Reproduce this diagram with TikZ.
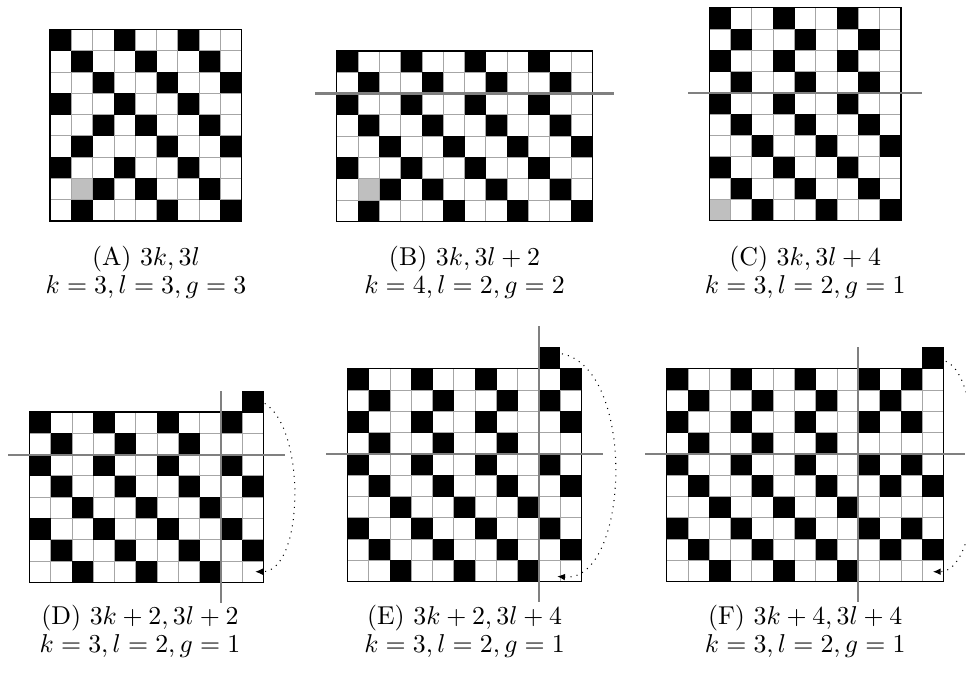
\documentclass[tikz,border=0pt]{standalone}
\usetikzlibrary{arrows.meta}
\begin{document}
\begin{tikzpicture}[x=0.29cm,y=0.29cm,
  cellgrid/.style={gray!70,line width=.35pt,step={(1,1)}},
  boardframe/.style={black,line width=.5pt},
  cutline/.style={gray,line width=.8pt},
  greycell/.style={fill=gray!50,draw=gray!70,line width=.35pt},
  wraparc/.style={dotted,line width=.4pt,-{Latex[length=3pt,width=2.6pt]}},
  captext/.style={anchor=base,inner sep=0pt}]
  \useasboundingbox (0,0) rectangle (45.35,31.6);

  % Board (A)
  \begin{scope}[shift={(2.35,21.22)}]
    \draw[cellgrid] (0,0) grid (9,9);
    \foreach \c/\r in {0/8,3/8,6/8,1/7,4/7,7/7,2/6,5/6,8/6,0/5,3/5,6/5,2/4,4/4,7/4,
                       1/3,5/3,8/3,0/2,3/2,6/2,2/1,4/1,7/1,1/0,5/0,8/0}
      \fill (\c,\r) rectangle ++(1,1);
    \filldraw[greycell] (1,1) rectangle ++(1,1);
    \draw[boardframe] (0,0) rectangle (9,9);
  \end{scope}

  % Board (B)
  \begin{scope}[shift={(15.81,21.21)}]
    \draw[cellgrid] (0,0) grid (12,8);
    \foreach \c/\r in {0/7,3/7,6/7,9/7,1/6,4/6,7/6,10/6,0/5,3/5,6/5,9/5,1/4,4/4,7/4,10/4,
                       2/3,5/3,8/3,11/3,0/2,3/2,6/2,9/2,2/1,4/1,7/1,10/1,1/0,5/0,8/0,11/0}
      \fill (\c,\r) rectangle ++(1,1);
    \filldraw[greycell] (1,1) rectangle ++(1,1);
    \draw[boardframe] (0,0) rectangle (12,8);
    \draw[cutline] (-1,6) -- (13,6);
  \end{scope}

  % Board (C)
  \begin{scope}[shift={(33.30,21.24)}]
    \draw[cellgrid] (0,0) grid (9,10);
    \foreach \c/\r in {0/9,3/9,6/9,1/8,4/8,7/8,0/7,3/7,6/7,1/6,4/6,7/6,0/5,3/5,6/5,
                       1/4,4/4,7/4,2/3,5/3,8/3,0/2,3/2,6/2,1/1,4/1,7/1,2/0,5/0,8/0}
      \fill (\c,\r) rectangle ++(1,1);
    \filldraw[greycell] (0,0) rectangle ++(1,1);
    \draw[boardframe] (0,0) rectangle (9,10);
    \draw[cutline] (-1,6) -- (10,6);
  \end{scope}

  % Board (D)
  \begin{scope}[shift={(1.38,4.26)}]
    \draw[cellgrid] (0,0) grid (11,8);
    \foreach \c/\r in {0/7,3/7,6/7,9/7,1/6,4/6,7/6,0/5,3/5,6/5,9/5,1/4,4/4,7/4,10/4,
                       2/3,5/3,8/3,0/2,3/2,6/2,9/2,1/1,4/1,7/1,10/1,2/0,5/0,8/0,10/8}
      \fill (\c,\r) rectangle ++(1,1);
    \draw[boardframe] (0,0) rectangle (11,8);
    \draw[cutline] (-1,6) -- (12,6);
    \draw[cutline] (9,-0.95) -- (9,9);
    \coordinate (Dfrom) at (11.05,8.4);
    \coordinate (Dto) at (10.6,0.5);
    \draw[wraparc] (Dfrom) .. controls +(1.95,-1.2) and +(2.3,0) .. (Dto);
  \end{scope}

  % Board (E)
  \begin{scope}[shift={(16.31,4.29)}]
    \draw[cellgrid] (0,0) grid (11,10);
    \foreach \c/\r in {0/9,3/9,6/9,10/9,1/8,4/8,7/8,9/8,0/7,3/7,6/7,10/7,1/6,4/6,7/6,
                       0/5,3/5,6/5,9/5,1/4,4/4,7/4,10/4,2/3,5/3,8/3,0/2,3/2,6/2,9/2,
                       1/1,4/1,7/1,10/1,2/0,5/0,8/0,9/10}
      \fill (\c,\r) rectangle ++(1,1);
    \draw[boardframe] (0,0) rectangle (11,10);
    \draw[cutline] (-1,6) -- (12,6);
    \draw[cutline] (9,-0.95) -- (9,12);
    \coordinate (Efrom) at (10.07,10.7);
    \coordinate (Eto) at (9.85,0.25);
    \draw[wraparc] (Efrom) .. controls +(3.53,-0.7) and +(3.4,-0.3) .. (Eto);
  \end{scope}

  % Board (F)
  \begin{scope}[shift={(31.30,4.29)}]
    \draw[cellgrid] (0,0) grid (13,10);
    \foreach \c/\r in {0/9,3/9,6/9,9/9,11/9,1/8,4/8,7/8,10/8,0/7,3/7,6/7,9/7,11/7,1/6,4/6,7/6,
                       0/5,3/5,6/5,9/5,11/5,1/4,4/4,7/4,10/4,12/4,2/3,5/3,8/3,
                       0/2,3/2,6/2,9/2,11/2,1/1,4/1,7/1,10/1,12/1,2/0,5/0,8/0,12/10}
      \fill (\c,\r) rectangle ++(1,1);
    \draw[boardframe] (0,0) rectangle (13,10);
    \draw[cutline] (-1,6) -- (14,6);
    \draw[cutline] (9,-0.95) -- (9,11);
    \coordinate (Ffrom) at (13.1,10.35);
    \coordinate (Fto) at (12.5,0.47);
    \draw[wraparc] (Ffrom) .. controls +(1.9,-0.75) and +(2.5,0) .. (Fto);
  \end{scope}

  % Captions
  \node[captext] (capA) at (6.85,19.13) {(A) $3k,3l$};
  \node[captext] (parA) at (6.85,17.81) {$k=3,l=3,g=3$};
  \node[captext] (capB) at (21.81,19.13) {(B) $3k,3l+2$};
  \node[captext] (parB) at (21.81,17.81) {$k=4,l=2,g=2$};
  \node[captext] (capC) at (37.8,19.13) {(C) $3k,3l+4$};
  \node[captext] (parC) at (37.8,17.81) {$k=3,l=2,g=1$};
  \node[captext] (capD) at (6.57,2.3) {(D) $3k+2,3l+2$};
  \node[captext] (parD) at (6.57,0.98) {$k=3,l=2,g=1$};
  \node[captext] (capE) at (21.81,2.3) {(E) $3k+2,3l+4$};
  \node[captext] (parE) at (21.81,0.98) {$k=3,l=2,g=1$};
  \node[captext] (capF) at (37.8,2.3) {(F) $3k+4,3l+4$};
  \node[captext] (parF) at (37.8,0.98) {$k=3,l=2,g=1$};
\end{tikzpicture}
\end{document}
